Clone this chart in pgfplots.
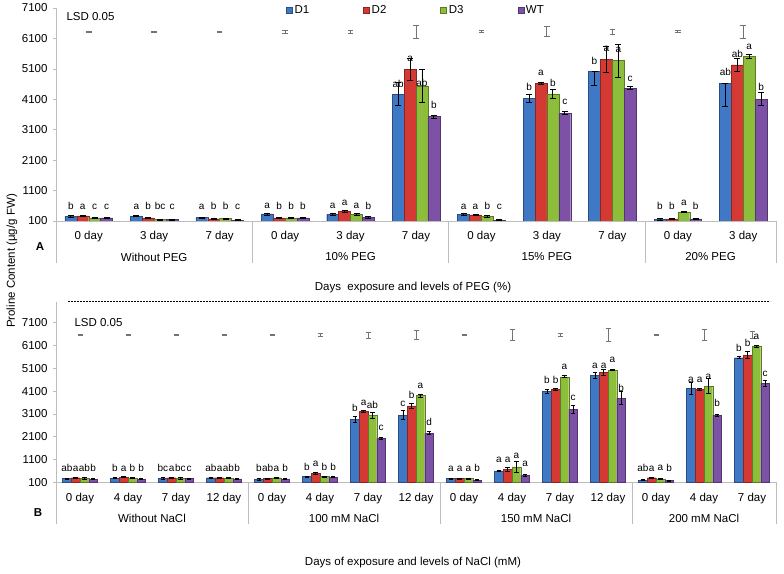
\documentclass[border=0pt]{standalone}
\usepackage{fontspec}
\setmainfont{Liberation Sans}
\usepackage{pgfplots}
\usepackage{pgfplotstable}
\pgfplotsset{compat=1.18}

\definecolor{cD1}{HTML}{3F78C5}
\definecolor{cD2}{HTML}{D43A33}
\definecolor{cD3}{HTML}{8CBE3C}
\definecolor{cWT}{HTML}{7D52A6}
\definecolor{axgray}{HTML}{BDBDBD}

\newcommand\tickfont{\fontsize{11.5}{13}\selectfont}
\newcommand\lblfont{\fontsize{10}{11}\selectfont}

% ---- PEG panel: x y err+ err- labely label
\pgfplotstableread{
x y ep em ly lab
0 260 30 30 480 b
1 260 25 25 480 a
2 210 20 20 480 a
3 330 30 30 520 a
4 320 25 25 520 a
5 4270 370 370 4500 ab
6 320 30 30 480 a
7 4130 140 140 4400 b
8 5010 0 440 5250 b
9 150 20 20 480 b
10 4630 0 770 4870 ab
}\tpA
\pgfplotstableread{
x y ep em ly lab
0 270 25 25 480 a
1 200 20 20 480 b
2 170 20 20 480 b
3 200 25 25 480 b
4 420 40 40 620 a
5 5090 370 370 5340 a
6 300 30 30 480 a
7 4630 35 35 4870 a
8 5420 430 430 5670 a
9 170 20 20 480 b
10 5230 220 220 5485 ab
}\tpB
\pgfplotstableread{
x y ep em ly lab
0 200 20 20 480 c
1 150 15 15 480 bc
2 180 20 20 480 b
3 200 20 20 480 b
4 320 25 25 520 a
5 4540 550 550 4520 ab
6 250 25 25 480 b
7 4280 140 140 4520 b
8 5370 550 550 5640 a
9 400 30 30 620 a
10 5510 50 50 5725 a
}\tpC
\pgfplotstableread{
x y ep em ly lab
0 200 20 20 480 c
1 150 15 15 480 c
2 130 15 15 480 c
3 200 20 20 480 b
4 220 20 20 480 b
5 3530 50 50 3810 b
6 130 10 10 480 c
7 3640 50 50 3915 c
8 4465 50 50 4680 c
9 170 15 15 480 b
10 4100 210 210 4385 b
}\tpD
\pgfplotstableread{
x y e
0 6317 15
1 6317 15
2 6317 15
3 6317 50
4 6317 50
5 6317 220
6 6317 35
7 6317 165
8 6317 80
9 6317 35
10 6317 220
}\tpL

% ---- NaCl panel
\pgfplotstableread{
x y ep em ly lab
0 260 25 25 560 ab
1 280 25 25 560 b
2 270 25 25 560 bc
3 300 25 25 560 ab
4 230 25 25 560 b
5 350 30 30 600 b
6 2860 145 145 3195 b
7 3050 200 200 3415 c
8 260 25 25 560 a
9 600 30 30 960 a
10 4100 90 90 4440 b
11 4780 130 130 5100 a
12 200 20 20 560 ab
13 4220 255 255 4470 a
14 5565 45 45 5830 b
}\bnA
\pgfplotstableread{
x y ep em ly lab
0 300 25 25 560 a
1 320 25 25 560 a
2 300 25 25 560 a
3 300 25 25 560 a
4 260 25 25 560 ab
5 500 40 40 785 a
6 3200 40 40 3490 a
7 3450 110 110 3785 b
8 260 25 25 560 a
9 670 80 80 960 a
10 4180 40 40 4440 b
11 4925 130 130 5100 a
12 300 25 25 560 a
13 4190 40 40 4490 a
14 5680 160 160 6050 b
}\bnB
\pgfplotstableread{
x y ep em ly lab
0 270 25 25 560 ab
1 280 25 25 560 b
2 270 25 25 560 bc
3 280 25 25 560 ab
4 300 25 25 560 a
5 350 30 30 600 b
6 3050 130 130 3345 ab
7 3900 65 65 4220 a
8 260 25 25 560 a
9 780 230 230 1150 a
10 4730 40 40 5055 a
11 5025 30 30 5345 a
12 250 25 25 600 a
13 4320 330 330 4590 a
14 6080 45 45 6370 a
}\bnC
\pgfplotstableread{
x y ep em ly lab
0 230 20 20 560 b
1 230 20 20 560 b
2 260 20 20 560 c
3 250 20 20 560 b
4 250 20 20 560 b
5 330 25 25 600 b
6 2030 40 40 2363 c
7 2250 65 65 2570 d
8 200 20 20 560 b
9 420 40 40 785 a
10 3315 175 175 3680 c
11 3785 285 285 4100 b
12 180 20 20 560 b
13 3050 50 50 3446 b
14 4440 130 130 4730 c
}\bnD
\pgfplotstableread{
x y e
0 6560 20
1 6560 20
2 6560 20
3 6560 20
4 6560 20
5 6560 60
6 6560 130
7 6560 180
8 6560 20
9 6560 255
10 6560 80
11 6560 300
12 6560 20
13 6560 255
14 6560 145
}\bnL

\pgfplotsset{
  panel/.style={
    scale only axis, width=720pt, xmin=-0.5, ymin=100,
    ytick={100,1100,...,7100},
    axis lines=left, axis line style={-, draw=axgray, line width=0.7pt},
    tick align=outside, major tick length=3pt,
    ytick style={draw=axgray, line width=0.7pt},
    xtick style={draw=none},
    tick label style={font=\tickfont},
    /pgf/number format/assume math mode=true,
    /pgf/number format/1000 sep={},
    yticklabel style={xshift=-2pt},
    xticklabel style={yshift=-4pt},
  },
  % #1 colour, #2 bar shift (axis units), #3 cap size, #4 same shift in pt for the error bars
  bars/.style n args={4}{
    ybar, bar width=0.182, bar shift=#2,
    fill=#1, draw=#1!65!black, line width=0.4pt,
    /pgfplots/error bars/y dir=both, /pgfplots/error bars/y explicit,
    /pgfplots/error bars/error bar style={draw=black, line width=0.8pt, xshift=#4},
    /pgfplots/error bars/error mark options={rotate=90, draw=black, mark size=#3, line width=0.8pt},
  },
  letters/.style={
    draw=none, mark=none, forget plot,
    nodes near coords, point meta=explicit symbolic,
    nodes near coords align={anchor=base},
    every node near coord/.append style={inner sep=0pt, text=black, font=\lblfont},
  },
  lsd/.style={
    draw=none, mark=none, forget plot,
    /pgfplots/error bars/y dir=both, /pgfplots/error bars/y explicit,
    /pgfplots/error bars/error bar style={draw=black!55, line width=0.9pt},
    /pgfplots/error bars/error mark options={rotate=90, draw=black!55, mark size=#1, line width=0.9pt},
  },
}

\begin{document}
\begin{tikzpicture}
\useasboundingbox (0,0) rectangle (784pt,573pt);

% ---------------- A: PEG ----------------
\begin{axis}[panel, at={(56pt,352pt)}, anchor=south west,
  height=213pt, xmax=10.5, ymax=7100,
  xtick={0,...,10},
  xticklabels={0 day,3 day,7 day,0 day,3 day,7 day,0 day,3 day,7 day,0 day,3 day},
  legend columns=4,
  legend style={draw=none, fill=none, at={(0.5,0.991)}, anchor=center,
    font=\tickfont, /tikz/every even column/.append style={column sep=52pt}},
  legend image code/.code={\draw[#1] (0pt,-3pt) rectangle (6pt,3pt);},
]
\addplot[bars={cD1}{-0.273}{3pt}{-17.87pt}] table[x=x, y=y, y error plus=ep, y error minus=em] {\tpA};
\addlegendentry{D1}
\addplot[bars={cD2}{-0.091}{3pt}{-5.96pt}] table[x=x, y=y, y error plus=ep, y error minus=em] {\tpB};
\addlegendentry{D2}
\addplot[bars={cD3}{0.091}{3pt}{5.96pt}] table[x=x, y=y, y error plus=ep, y error minus=em] {\tpC};
\addlegendentry{D3}
\addplot[bars={cWT}{0.273}{3pt}{17.87pt}] table[x=x, y=y, y error plus=ep, y error minus=em] {\tpD};
\addlegendentry{WT}
\addplot[lsd=2.8pt] table[x=x, y=y, y error=e] {\tpL};
\addplot[letters] table[x expr=\thisrow{x}-0.273, y=ly, meta=lab] {\tpA};
\addplot[letters] table[x expr=\thisrow{x}-0.091, y=ly, meta=lab] {\tpB};
\addplot[letters] table[x expr=\thisrow{x}+0.091, y=ly, meta=lab] {\tpC};
\addplot[letters] table[x expr=\thisrow{x}+0.273, y=ly, meta=lab] {\tpD};
\end{axis}

% ---------------- B: NaCl ----------------
\begin{axis}[panel, at={(56pt,90.7pt)}, anchor=south west,
  height=180.1pt, xmax=14.5, ymax=8000,
  xtick={0,...,14},
  xticklabels={0 day,4 day,7 day,12 day,0 day,4 day,7 day,12 day,0 day,4 day,7 day,12 day,0 day,4 day,7 day},
]
\addplot[bars={cD1}{-0.273}{2.2pt}{-13.1pt}] table[x=x, y=y, y error plus=ep, y error minus=em] {\bnA};
\addplot[bars={cD2}{-0.091}{2.2pt}{-4.37pt}] table[x=x, y=y, y error plus=ep, y error minus=em] {\bnB};
\addplot[bars={cD3}{0.091}{2.2pt}{4.37pt}] table[x=x, y=y, y error plus=ep, y error minus=em] {\bnC};
\addplot[bars={cWT}{0.273}{2.2pt}{13.1pt}] table[x=x, y=y, y error plus=ep, y error minus=em] {\bnD};
\addplot[lsd=2.5pt] table[x=x, y=y, y error=e] {\bnL};
\addplot[letters] table[x expr=\thisrow{x}-0.273, y=ly, meta=lab] {\bnA};
\addplot[letters] table[x expr=\thisrow{x}-0.091, y=ly, meta=lab] {\bnB};
\addplot[letters] table[x expr=\thisrow{x}+0.091, y=ly, meta=lab] {\bnC};
\addplot[letters] table[x expr=\thisrow{x}+0.273, y=ly, meta=lab] {\bnD};
\end{axis}

% group separators and labels
\begin{scope}[axgray, line width=0.7pt]
\foreach \sx in {56,252.4,448.7,645.1,776} \draw (\sx pt,352pt) -- (\sx pt,310pt);
\foreach \sx in {56,248,440,632,776} \draw (\sx pt,90.7pt) -- (\sx pt,48.7pt);
\end{scope}
\begin{scope}[font=\tickfont]
\node at (154.2pt,316pt) {Without PEG};
\node at (350.5pt,316pt) {10\% PEG};
\node at (546.9pt,316pt) {15\% PEG};
\node at (710.5pt,316pt) {20\% PEG};
\node at (152pt,55pt) {Without NaCl};
\node at (344pt,55pt) {100 mM NaCl};
\node at (536pt,55pt) {150 mM NaCl};
\node at (704pt,55pt) {200 mM NaCl};
\node[font=\tickfont\bfseries] at (40pt,326pt) {A};
\node[font=\tickfont\bfseries] at (38pt,60pt) {B};
\node[anchor=west] at (63pt,556pt) {LSD 0.05};
\node[anchor=west] at (71pt,250pt) {LSD 0.05};
\node at (413pt,285pt) {Days\ \ exposure and levels of PEG (\%)};
\node at (413pt,10pt) {Days of exposure and levels of NaCl (mM)};
\node[rotate=90] at (12pt,312pt) {Proline Content (µg/g FW)};
\end{scope}
\draw[black, line width=0.6pt, dash pattern=on 2pt off 1pt] (68pt,271.5pt) -- (770pt,271.5pt);
\end{tikzpicture}
\end{document}
